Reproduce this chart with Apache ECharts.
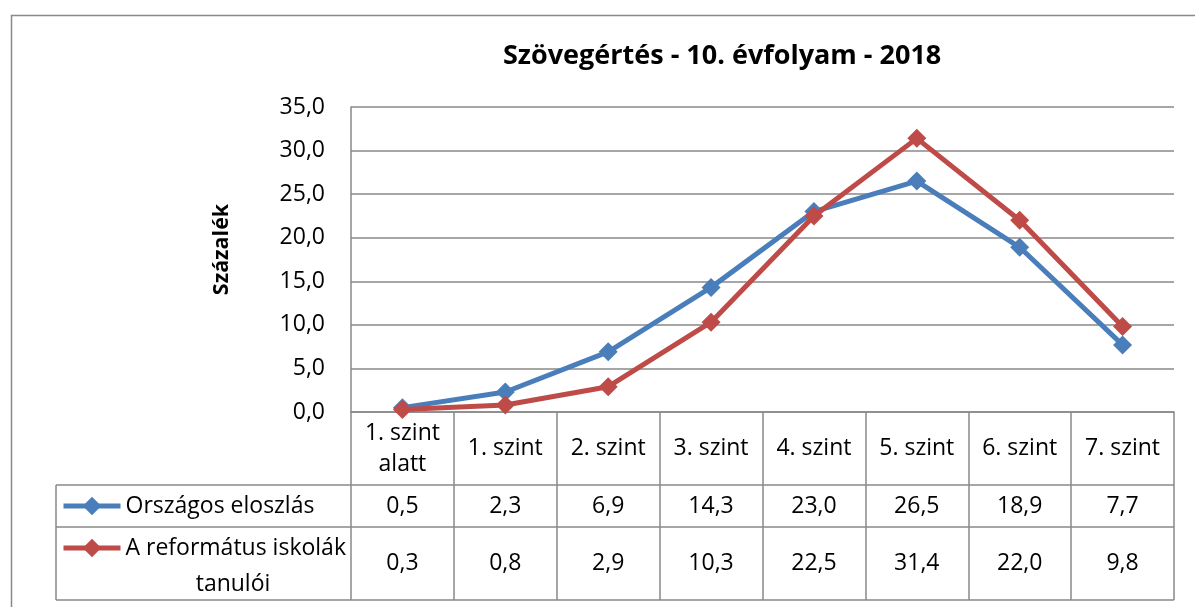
<!DOCTYPE html>
<html>
<head>
<meta charset="utf-8">
<script src="https://cdn.jsdelivr.net/npm/echarts@6/dist/echarts.min.js"></script>
<style>
  html, body { margin: 0; padding: 0; background: #fff; }
  #chart { width: 1195px; height: 607px; }
</style>
</head>
<body>
<div id="chart"></div>
<script>
// adatok
const categories = ['1. szint\nalatt', '1. szint', '2. szint', '3. szint', '4. szint', '5. szint', '6. szint', '7. szint'];
const nationalName = 'Országos eloszlás';
const reformedName = 'A református iskolák tanulói';
const national = [0.5, 2.3, 6.9, 14.3, 23.0, 26.5, 18.9, 7.7];
const reformed = [0.3, 0.8, 2.9, 10.3, 22.5, 31.4, 22.0, 9.8];
const yTicks = [0, 5, 10, 15, 20, 25, 30, 35];

// elrendezés
const W = 1195, H = 607;
const plotLeft = 351, plotRight = 1174, plotTop = 107, axisY = 412;
const headerBottom = 485, row1Bottom = 527, row2Bottom = 600, tableLeft = 56;
const grey = '#898989';
const font = '"Open Sans", sans-serif';
const fs = 23;
const blue = '#4a7ebb', red = '#be4b48';

const fmt = v => v.toFixed(1).replace('.', ',');

let chart = echarts.init(document.getElementById('chart'));
chart.setOption({
  animation: false,
  textStyle: { fontFamily: font },
  title: {
    text: 'Szövegértés - 10. évfolyam - 2018',
    left: 503,
    top: 43,
    padding: 0,
    textStyle: { fontFamily: font, fontSize: 27, fontWeight: 'bold', color: '#000' }
  },
  grid: {
    left: plotLeft,
    right: W - plotRight,
    top: plotTop,
    bottom: H - axisY
  },
  legend: [
    {
      data: [nationalName],
      left: 61,
      top: (headerBottom + row1Bottom) / 2 - 15,
      padding: 0,
      itemWidth: 57,
      itemHeight: 23,
      itemGap: 0,
      selectedMode: false,
      lineStyle: { width: 5 },
      textStyle: { fontFamily: font, fontSize: fs, color: '#000', lineHeight: 30 }
    },
    {
      data: [reformedName],
      left: 61,
      top: 548 - 15,
      padding: 0,
      itemWidth: 57,
      itemHeight: 23,
      selectedMode: false,
      lineStyle: { width: 5 },
      formatter: () => 'A református iskolák',
      textStyle: { fontFamily: font, fontSize: fs, color: '#000', lineHeight: 30 }
    }
  ],
  xAxis: [
    {
      type: 'category',
      data: categories,
      boundaryGap: true,
      position: 'bottom',
      axisLine: { lineStyle: { color: grey, width: 1.5 } },
      axisTick: { show: true, interval: 0, length: row2Bottom - axisY, lineStyle: { color: grey, width: 1.5 } },
      axisLabel: {
        interval: 0, margin: (headerBottom - axisY) / 2, verticalAlign: 'middle',
        fontSize: fs, lineHeight: 31, color: '#000', fontFamily: font
      }
    },
    {
      type: 'category',
      data: categories,
      position: 'bottom',
      offset: 0,
      axisLine: { show: false },
      axisTick: { show: false },
      axisLabel: {
        interval: 0, margin: (headerBottom + row1Bottom) / 2 - axisY, verticalAlign: 'middle',
        fontSize: fs, color: '#000', fontFamily: font,
        formatter: (v, i) => fmt(national[i])
      }
    },
    {
      type: 'category',
      data: categories,
      position: 'bottom',
      offset: 0,
      axisLine: { show: false },
      axisTick: { show: false },
      axisLabel: {
        interval: 0, margin: (row1Bottom + row2Bottom) / 2 - axisY, verticalAlign: 'middle',
        fontSize: fs, color: '#000', fontFamily: font,
        formatter: (v, i) => fmt(reformed[i])
      }
    }
  ],
  yAxis: {
    type: 'value',
    min: yTicks[0],
    max: yTicks[yTicks.length - 1],
    interval: 5,
    name: 'Százalék',
    nameLocation: 'middle',
    nameRotate: 90,
    nameGap: 118,
    nameTextStyle: { fontFamily: font, fontSize: 21.5, fontWeight: 'bold', color: '#000', padding: [0, 0, 0, 20] },
    axisLine: { show: true, lineStyle: { color: grey, width: 1.5 } },
    axisTick: { show: false },
    splitLine: { lineStyle: { color: grey, width: 1.5 } },
    axisLabel: { margin: 26, fontSize: fs, color: '#000', fontFamily: font, formatter: v => fmt(v) }
  },
  series: [
    {
      name: nationalName,
      type: 'line',
      data: national,
      color: blue,
      symbol: 'diamond',
      symbolSize: 19,
      lineStyle: { width: 5 },
      z: 3
    },
    {
      name: reformedName,
      type: 'line',
      data: reformed,
      color: red,
      symbol: 'diamond',
      symbolSize: 19,
      lineStyle: { width: 5 },
      z: 4
    }
  ],
  graphic: [
    // külső keret
    { type: 'polyline', silent: true, shape: { points: [[11.5, H], [11.5, 15.5], [W, 15.5]] }, style: { stroke: grey, lineWidth: 1.5, fill: null } },
    // táblázat vonalai
    { type: 'line', silent: true, shape: { x1: tableLeft, y1: headerBottom, x2: plotRight, y2: headerBottom }, style: { stroke: grey, lineWidth: 1.5 } },
    { type: 'line', silent: true, shape: { x1: tableLeft, y1: row1Bottom, x2: plotRight, y2: row1Bottom }, style: { stroke: grey, lineWidth: 1.5 } },
    { type: 'line', silent: true, shape: { x1: tableLeft, y1: row2Bottom, x2: plotRight, y2: row2Bottom }, style: { stroke: grey, lineWidth: 1.5 } },
    { type: 'line', silent: true, shape: { x1: tableLeft, y1: headerBottom, x2: tableLeft, y2: row2Bottom }, style: { stroke: grey, lineWidth: 1.5 } },
    {
      type: 'text', silent: true, x: 233, y: 584,
      style: { text: 'tanulói', fontFamily: font, fontSize: fs, fill: '#000', align: 'center', verticalAlign: 'middle' }
    }
  ]
});
</script>
</body>
</html>
